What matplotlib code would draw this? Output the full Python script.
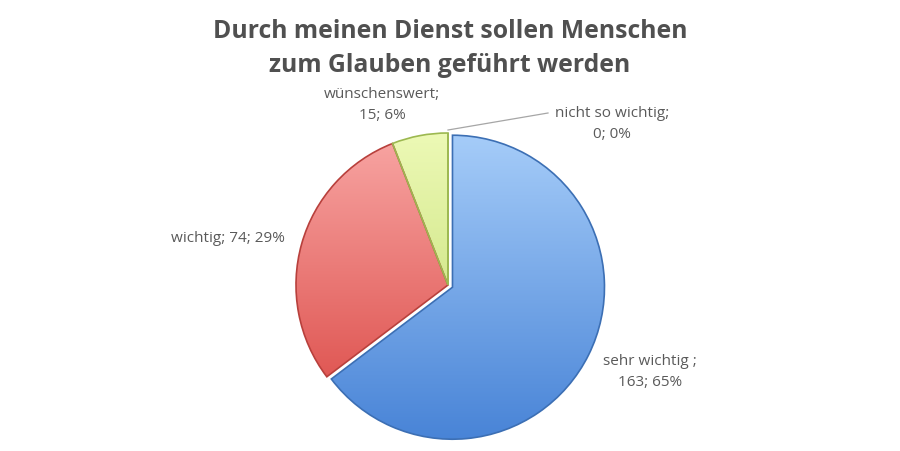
import numpy as np
import matplotlib
matplotlib.use('Agg')
import matplotlib.pyplot as plt
from matplotlib.colors import LinearSegmentedColormap

# data
categories = ['sehr wichtig ', 'wichtig', 'wünschenswert', 'nicht so wichtig']
values = [163, 74, 15, 0]
percents = [65, 29, 6, 0]
title = 'Durch meinen Dienst sollen Menschen\nzum Glauben geführt werden'

# gradient colours (top, bottom) and edge colour per slice
grad = [('#a9cffa', '#4682d6'), ('#f9a9a7', '#d9423e'),
        ('#eefab8', '#bcd866'), ('#eefab8', '#bcd866')]
edges = ['#3c6fb4', '#b8403c', '#9cb850', '#9cb850']

fig = plt.figure(figsize=(9, 4.51), dpi=100)
ax = fig.add_axes([0, 0, 1, 1])

cx, cy, r = 448, 166, 152
# explode is in data units here (pixels)
wedges, _ = ax.pie(values, startangle=90, counterclock=False, center=(cx, cy),
                   radius=r, explode=[5, 0, 0, 0], frame=True,
                   wedgeprops=dict(linewidth=1.2))

grad_img = np.linspace(0, 1, 256).reshape(-1, 1)
for w, (c_top, c_bot), ec in zip(wedges, grad, edges):
    w.set_facecolor('none')
    w.set_edgecolor(ec)
    w.set_zorder(3)
    cmap = LinearSegmentedColormap.from_list('g', [c_bot, c_top])
    im = ax.imshow(grad_img, cmap=cmap, origin='lower', aspect='auto',
                   extent=(cx - r - 10, cx + r + 10, cy - r - 10, cy + r + 10),
                   zorder=2, interpolation='bilinear')
    im.set_clip_path(w)

ax.set_xlim(0, 900)
ax.set_ylim(0, 451)
ax.set_aspect('equal')
ax.axis('off')

labels = ['%s;\n%d; %d%%' % (c, v, p) for c, v, p in zip(categories, values, percents)]
labels[1] = '%s; %d; %d%%' % (categories[1], values[1], percents[1])
pos = [(650, 79), (228, 212), (382, 346), (612, 327)]
txt = dict(fontsize=11, color='#5a5a5a', family='Open Sans', ha='center',
           va='center', linespacing=1.6)
for lab, (x, y) in zip(labels, pos):
    ax.text(x, y, lab, **txt)

# leader line for the zero slice
ax.plot([448, 548], [cy + r + 3, 338], color='#a6a6a6', lw=0.9, zorder=4)

fig.text(0.5, 0.893, title, ha='center', va='center', fontsize=17.8,
         fontweight='bold', color='#505050', family='Open Sans', linespacing=1.45)

fig.savefig('out.png', dpi=100)
